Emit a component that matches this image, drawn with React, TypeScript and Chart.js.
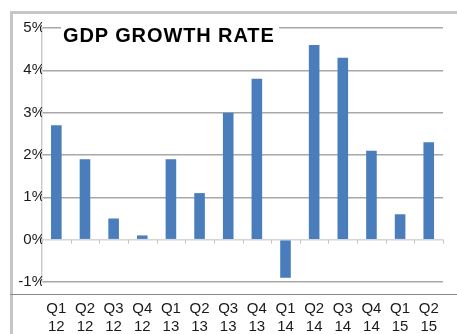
import React, { useEffect, useRef } from 'react';
import { Chart, registerables } from 'chart.js';

Chart.register(...registerables);

const quarters = ['Q1', 'Q2', 'Q3', 'Q4', 'Q1', 'Q2', 'Q3', 'Q4', 'Q1', 'Q2', 'Q3', 'Q4', 'Q1', 'Q2'];
const years = ['12', '12', '12', '12', '13', '13', '13', '13', '14', '14', '14', '14', '15', '15'];
const growth = [2.7, 1.9, 0.5, 0.1, 1.9, 1.1, 3.0, 3.8, -0.9, 4.6, 4.3, 2.1, 0.6, 2.3];
const yMin = -1;
const yMax = 5;
const yStep = 1;
const titleText = 'GDP GROWTH RATE';

const FONT = "'Liberation Sans', Arial, sans-serif";

const zeroTicks = {
  id: 'zeroTicks',
  beforeDatasetsDraw(chart: any) {
    const { ctx, scales } = chart;
    const x = scales.x;
    const y = scales.y;
    const y0 = y.getPixelForValue(0);
    const n = x.ticks.length;
    const w = (x.right - x.left) / n;
    ctx.save();
    ctx.strokeStyle = '#c4c4c4';
    ctx.lineWidth = 1;
    for (let i = 0; i <= n; i++) {
      const px = Math.round(x.left + i * w) + 0.5;
      ctx.beginPath();
      ctx.moveTo(px, y0);
      ctx.lineTo(px, y0 + 4);
      ctx.stroke();
    }
    ctx.restore();
  },
};

export default function App() {
  const ref = useRef<HTMLCanvasElement | null>(null);

  useEffect(() => {
    if (!ref.current) return;
    const chart = new Chart(ref.current, {
      type: 'bar',
      data: {
        labels: quarters.map((q, i) => [q, years[i]]),
        datasets: [
          {
            data: growth,
            backgroundColor: '#4a7dbc',
            borderWidth: 0,
            barPercentage: 0.37,
            categoryPercentage: 1,
          },
        ],
      },
      options: {
        animation: false,
        responsive: false,
        maintainAspectRatio: false,
        layout: { padding: { left: 0, right: 7, top: 28, bottom: 0 } },
        plugins: { legend: { display: false }, tooltip: { enabled: false }, title: { display: false } },
        scales: {
          x: {
            grid: { display: false, drawTicks: false },
            border: { display: false },
            ticks: {
              color: '#1a1a1a',
              font: { family: FONT, size: 15, lineHeight: 1.2 },
              padding: 18,
              maxRotation: 0,
              autoSkip: false,
            },
            afterFit: (s: any) => {
              s.height = 52;
            },
          },
          y: {
            min: yMin,
            max: yMax,
            grid: {
              drawTicks: false,
              lineWidth: 1.5,
              color: (c: any) => (c.tick && c.tick.value === 0 ? '#d6d6d6' : '#a8a8a8'),
            },
            border: { display: true, color: '#cdcdcd', width: 1.5 },
            ticks: {
              stepSize: yStep,
              color: '#1a1a1a',
              font: { family: FONT, size: 15 },
              padding: -3,
              callback: (v: any) => `${v}%`,
            },
            afterFit: (s: any) => {
              s.width = 42;
            },
          },
        },
      },
      plugins: [zeroTicks],
    });
    return () => chart.destroy();
  }, []);

  return (
    <div style={{ position: 'fixed', left: 0, top: 0, width: 457, height: 334, background: '#fff', overflow: 'hidden' }}>
      <div
        style={{
          position: 'absolute',
          left: 10,
          top: 11,
          right: 0,
          bottom: 0,
          borderTop: '3px solid #c6c6c6',
          borderLeft: '3px solid #c6c6c6',
        }}
      />
      <div style={{ position: 'absolute', left: 10, top: 294, right: 0, height: 0, borderTop: '1px solid #8a8a8a' }} />
      <canvas ref={ref} width={457} height={334} style={{ position: 'absolute', left: 0, top: 0, width: 457, height: 334 }} />
      <div
        style={{
          position: 'absolute',
          left: 61,
          top: 25,
          background: '#fff',
          padding: '0 4px 0 2px',
          fontFamily: FONT,
          fontWeight: 'bold',
          fontSize: 20,
          lineHeight: '20px',
          letterSpacing: '0.9px',
          color: '#000',
          whiteSpace: 'nowrap',
        }}
      >
        {titleText}
      </div>
    </div>
  );
}
